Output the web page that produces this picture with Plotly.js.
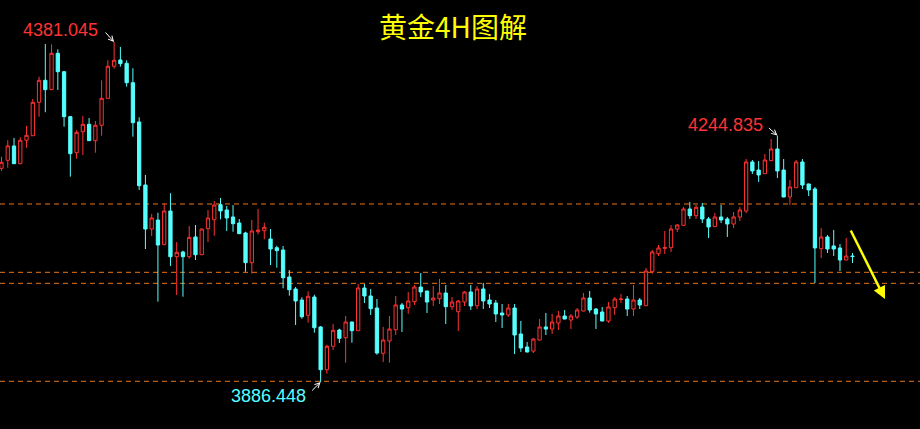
<!DOCTYPE html>
<html><head><meta charset="utf-8">
<script src="https://cdn.plot.ly/plotly-3.0.1.min.js"></script>
<style>html,body{margin:0;padding:0;background:#000;overflow:hidden;}</style>
</head><body><div id="chart" style="width:920px;height:429px;"></div>
<script>
const openP = [4197.3,4209.0,4229.8,4204.0,4238.1,4244.7,4293.3,4325.3,4311.7,4364.6,
4337.8,4272.4,4220.0,4250.6,4261.3,4237.5,4259.9,4299.1,4345.7,4354.9,
4350.0,4321.8,4264.7,4173.0,4109.0,4122.1,4086.2,4135.2,4068.7,4075.6,
4068.7,4097.4,4071.6,4109.5,4122.5,4144.4,4136.7,4126.5,4117.7,4103.2,
4060.0,4105.1,4106.5,4094.5,4081.8,4078.5,4039.2,4021.7,4005.7,3983.5,
4010.1,3966.5,3904.3,3938.4,3962.1,3950.9,3973.7,3961.1,4023.2,4011.6,
3994.1,3928.2,3946.1,3962.5,3998.5,3994.5,4003.3,4024.6,4018.8,4005.7,
4007.6,4015.9,3996.0,3988.7,4002.8,4017.4,3997.4,4021.7,4005.7,4001.4,
3986.8,3983.9,3994.1,3956.3,3937.4,3931.5,3947.5,3966.5,3963.5,3972.3,
3982.5,3976.6,3981.0,3989.7,4008.6,3992.6,3988.3,3975.2,3994.5,4006.5,
4007.2,3992.6,4005.7,3997.4,4046.9,4073.1,4080.9,4081.8,4109.0,4114.4,
4138.1,4128.4,4141.0,4123.6,4112.4,4126.5,4123.6,4116.3,4126.5,4135.2,
4206.5,4194.8,4189.5,4208.4,4225.4,4194.8,4155.6,4169.1,4206.5,4174.5,
4167.2,4080.4,4097.4,4084.3,4081.4,4063.9,4069.7];
const highP = [4214.2,4238.1,4241.4,4242.4,4258.9,4298.1,4330.6,4378.1,4377.5,4370.4,
4338.9,4273.4,4253.0,4273.4,4270.5,4266.1,4325.3,4354.4,4381.045,4373.8,
4354.4,4342.8,4271.5,4187.6,4130.8,4132.7,4146.4,4161.0,4090.1,4077.5,
4113.4,4114.8,4109.5,4136.7,4149.8,4154.1,4142.5,4143.9,4123.6,4105.1,
4122.1,4138.1,4118.2,4109.0,4084.7,4084.3,4049.4,4024.6,4009.7,4018.4,
4013.4,3967.9,3940.7,3970.8,3964.0,3982.5,3974.2,4029.0,4029.0,4021.7,
4007.2,3966.5,3982.5,4011.6,4001.4,4017.4,4027.6,4045.0,4019.3,4026.1,
4036.3,4027.6,4010.1,4005.7,4018.8,4027.6,4026.1,4030.5,4014.5,4005.7,
3999.9,3999.9,3999.9,3975.2,3944.6,3950.5,3978.1,3986.8,3985.4,3989.7,
3991.2,3985.4,3994.1,4015.9,4018.8,3994.1,3995.6,4002.8,4010.1,4014.5,
4011.6,4027.6,4008.6,4052.3,4078.5,4085.7,4106.1,4114.8,4116.3,4141.0,
4148.3,4143.9,4146.8,4126.5,4132.3,4143.9,4126.5,4133.7,4141.0,4210.8,
4209.4,4207.9,4218.1,4239.9,4244.835,4210.8,4180.3,4209.4,4210.8,4175.0,
4170.1,4110.5,4100.3,4107.6,4087.2,4095.9,4074.1];
const lowP = [4193.8,4198.2,4203.5,4203.5,4227.3,4244.5,4272.4,4278.8,4311.2,4311.2,
4257.8,4185.1,4211.3,4216.7,4237.0,4220.0,4244.7,4298.6,4342.2,4345.1,
4316.0,4243.3,4165.8,4079.9,4098.8,4003.3,4085.7,4055.2,4013.0,4010.5,
4065.8,4063.9,4071.1,4090.1,4099.3,4123.1,4106.1,4105.1,4101.7,4046.9,
4044.0,4101.3,4094.0,4056.6,4052.7,4022.8,4012.0,3969.4,3978.5,3972.7,
3958.2,3886.448,3898.5,3933.0,3943.2,3914.5,3943.6,3960.6,4001.4,3983.9,
3926.2,3915.5,3914.5,3954.8,3959.2,3985.8,3998.5,4010.1,3986.8,3997.0,
3999.9,3970.8,3991.2,3960.6,3997.0,3991.2,3992.6,3992.6,3994.1,3973.7,
3965.0,3981.0,3927.2,3930.1,3929.6,3928.6,3947.0,3954.8,3956.3,3962.1,
3977.6,3963.5,3978.1,3989.2,3987.3,3963.5,3974.7,3972.3,3983.9,4001.4,
3982.5,3982.5,3992.6,3996.9,4044.0,4069.7,4072.7,4075.6,4104.7,4113.9,
4123.6,4123.6,4117.7,4095.9,4111.9,4117.7,4097.4,4110.5,4120.7,4132.3,
4189.0,4177.4,4189.0,4207.9,4183.2,4155.1,4143.9,4168.6,4167.2,4157.0,
4030.5,4066.8,4074.1,4069.7,4047.9,4063.4,4059.6];
const closeP = [4206.0,4229.8,4204.0,4238.1,4245.3,4293.3,4325.3,4311.7,4364.6,4337.8,
4272.4,4218.6,4249.7,4261.3,4237.5,4259.9,4299.1,4345.7,4354.4,4349.5,
4321.8,4263.7,4172.0,4109.0,4125.0,4085.7,4135.2,4068.7,4075.1,4068.7,
4096.9,4071.6,4109.0,4125.0,4143.9,4135.2,4125.0,4116.7,4102.2,4060.0,
4106.1,4107.6,4111.5,4079.9,4077.5,4038.2,4020.7,4004.3,3981.4,4011.1,
3965.4,3904.3,3938.4,3961.7,3950.0,3973.7,3961.1,4023.2,4011.6,3993.1,
3928.6,3947.5,3963.5,3998.5,3992.6,4004.3,4024.6,4017.4,4002.8,4008.6,
4015.9,3996.0,4002.8,4004.3,4017.4,3997.0,4021.7,4004.3,3999.9,3985.4,
3983.9,3994.1,3954.8,3935.9,3930.1,3949.0,3966.5,3963.5,3973.7,3982.5,
3978.1,3982.5,3991.2,4008.6,3991.2,3985.4,3975.2,3995.6,4007.2,4007.2,
3992.6,4005.7,3998.5,4047.9,4075.6,4081.4,4081.8,4109.0,4114.8,4138.1,
4128.4,4140.6,4123.6,4111.9,4126.5,4122.1,4116.3,4126.5,4136.7,4206.5,
4193.4,4187.6,4209.4,4225.4,4193.4,4155.6,4170.1,4206.5,4173.0,4165.8,
4081.4,4097.4,4079.9,4079.9,4063.9,4069.7,4069.0];
const levels = [4145.4, 4046.0, 4030.0, 3887.5];
const titleText = "黄金4H图解";
const highLabel = "4381.045";
const secondHighLabel = "4244.835";
const lowLabel = "3886.448";

const idx = openP.map((_, i) => i);
const iHigh = highP.indexOf(Math.max(...highP));
const iLow = lowP.indexOf(Math.min(...lowP));
const i2 = highP.indexOf(4244.835);

const RED = '#ff3333', CYAN = '#55ffff', ORANGE = '#e8761c';

const trace = {
  type: 'candlestick', x: idx, open: openP, high: highP, low: lowP, close: closeP,
  increasing: {line: {color: RED, width: 1}, fillcolor: 'rgba(0,0,0,0)'},
  decreasing: {line: {color: CYAN, width: 1}, fillcolor: CYAN},
  whiskerwidth: 0, hoverinfo: 'skip', showlegend: false
};

const shapes = levels.map(v => ({
  type: 'line', xref: 'paper', x0: 0, x1: 1, yref: 'y', y0: v, y1: v,
  line: {color: ORANGE, width: 1, dash: '5px,4px'}, layer: 'below'
}));

const lblFont = (c) => ({family: 'Liberation Sans, Arial, sans-serif', size: 18, color: c});
const annotations = [
  {xref: 'paper', yref: 'paper', x: 21/920, y: 1 - 30/429, xanchor: 'left', yanchor: 'middle',
   text: highLabel, showarrow: false, font: lblFont(RED)},
  {xref: 'paper', yref: 'paper', x: 686/920, y: 1 - 124.5/429, xanchor: 'left', yanchor: 'middle',
   text: secondHighLabel, showarrow: false, font: lblFont(RED)},
  {xref: 'paper', yref: 'paper', x: 228.5/920, y: 1 - 396/429, xanchor: 'left', yanchor: 'middle',
   text: lowLabel, showarrow: false, font: lblFont(CYAN)},
  {x: iHigh, y: highP[iHigh], xref: 'x', yref: 'y', text: '', showarrow: true, ax: -10, ay: -11,
   arrowcolor: '#ffffff', arrowwidth: 1, arrowhead: 5, arrowsize: 1},
  {x: i2, y: highP[i2], xref: 'x', yref: 'y', text: '', showarrow: true, ax: -10, ay: -9,
   arrowcolor: '#ffffff', arrowwidth: 1, arrowhead: 5, arrowsize: 1},
  {x: iLow, y: lowP[iLow], xref: 'x', yref: 'y', text: '', showarrow: true, ax: -10, ay: 10,
   arrowcolor: '#ffffff', arrowwidth: 1, arrowhead: 5, arrowsize: 1},
  {xref: 'paper', yref: 'paper', x: 885/920, y: 1 - 299/429, text: '', showarrow: true,
   ax: -35, ay: -70, arrowcolor: '#ffff00', arrowwidth: 2.5, arrowhead: 2, arrowsize: 1}
];

const layout = {
  width: 920, height: 429, autosize: false,
  margin: {l: 0, r: 0, t: 0, b: 0, pad: 0},
  paper_bgcolor: '#000000', plot_bgcolor: '#000000',
  boxgap: 0.25,
  title: {text: titleText, x: 453/920, xanchor: 'center', xref: 'paper',
          y: 1 - 28/429, yanchor: 'middle', yref: 'container',
          font: {family: 'Noto Sans CJK SC, sans-serif', size: 28, color: '#ffff00'}},
  xaxis: {visible: false, range: [-0.24, 146.79], rangeslider: {visible: false}, fixedrange: true},
  yaxis: {visible: false, range: [3818.1, 4442.1], fixedrange: true},
  shapes: shapes, annotations: annotations, showlegend: false, hovermode: false
};

Plotly.newPlot('chart', [trace], layout, {staticPlot: true, displayModeBar: false});
</script>
</body></html>
